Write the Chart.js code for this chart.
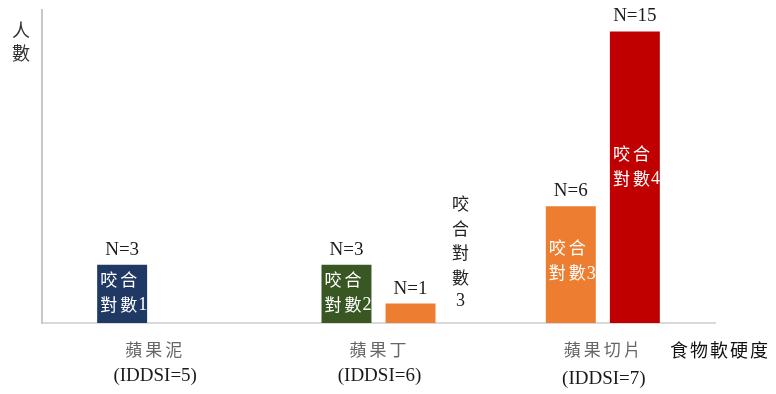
<!DOCTYPE html>
<html>
<head>
<meta charset="utf-8">
<script src="https://cdn.jsdelivr.net/npm/chart.js@4"></script>
<style>
  body { margin: 0; background: #fff; }
  #wrap { width: 776px; height: 394px; position: relative; }
</style>
</head>
<body>
<div id="wrap"><canvas id="myChart"></canvas></div>
<script>
// 食物軟硬度分類
const categories = ['蘋果泥', '蘋果丁', '蘋果切片'];
const subLabels = ['(IDDSI=5)', '(IDDSI=6)', '(IDDSI=7)'];

// 每個分類兩個位置（左、右）的人數與咬合對數
const leftCounts = [3, 3, 6];
const leftPairs = [1, 2, 3];
const rightCounts = [null, 1, 15];
const rightPairs = [null, 3, 4];

const pairColors = {
    1: '#203864',
    2: '#385723',
    3: '#ed7d31',
    4: '#c00000'
};

const serif = '"Liberation Serif", "Times New Roman", serif';
const cjk = '"Noto Sans CJK TC", "Noto Sans CJK SC", sans-serif';

// 在長條上畫 N=? 與咬合對數，並畫軸標題與分類標籤
const labelPlugin = {
    id: 'labelPlugin',
    afterDatasetsDraw(chart) {
        const ctx = chart.ctx;
        const area = chart.chartArea;
        const xScale = chart.scales.x;
        const pairsByDataset = [leftPairs, rightPairs];

        ctx.save();
        chart.data.datasets.forEach((ds, d) => {
            const meta = chart.getDatasetMeta(d);
            meta.data.forEach((bar, i) => {
                const value = ds.data[i];
                if (value === null) return;
                const pair = pairsByDataset[d][i];
                const top = bar.y;
                const base = bar.base;

                ctx.fillStyle = '#1a1a1a';
                ctx.font = '19px ' + serif;
                ctx.textAlign = 'center';
                ctx.textBaseline = 'middle';
                ctx.fillText('N=' + value, bar.x, top - 15);

                if (base - top > 40) {
                    // 長條越高，文字稍微往上移
                    const mid = (top + base) / 2 - (base - top) * 0.04;
                    const left = bar.x - bar.width / 2 + 3;
                    ctx.fillStyle = '#ffffff';
                    ctx.textAlign = 'left';
                    ctx.font = '17px ' + cjk;
                    ctx.letterSpacing = '3px';
                    ctx.fillText('咬合', left, mid - 12);
                    ctx.fillText('對數', left, mid + 13);
                    const w = ctx.measureText('對數').width;
                    ctx.letterSpacing = '0px';
                    ctx.font = '18px ' + serif;
                    ctx.fillText(String(pair), left + w - 2, mid + 14);
                } else {
                    // 矮長條的標籤改成直排放在右側
                    const chars = ['咬', '合', '對', '數', String(pair)];
                    ctx.fillStyle = '#222222';
                    ctx.textAlign = 'center';
                    chars.forEach((c, k) => {
                        const y = top - 2 - (chars.length - 1 - k) * 24.5;
                        ctx.font = (k === chars.length - 1 ? '18px ' + serif : '17px ' + cjk);
                        ctx.fillText(c, bar.x + 50, y);
                    });
                }
            });
        });

        // 分類標籤
        categories.forEach((name, i) => {
            const x = xScale.getPixelForValue(i);
            ctx.textAlign = 'center';
            ctx.textBaseline = 'middle';
            ctx.fillStyle = '#666666';
            ctx.font = '17px ' + cjk;
            ctx.letterSpacing = '3px';
            ctx.fillText(name, x + 1, area.bottom + 27);
            ctx.letterSpacing = '0px';
            ctx.fillStyle = '#1a1a1a';
            ctx.font = '19px ' + serif;
            ctx.fillText(subLabels[i], x + 1, area.bottom + 53 + (i === 2 ? 3 : 0));
        });

        // 軸標題
        ctx.fillStyle = '#333333';
        ctx.font = '18px ' + cjk;
        ctx.textAlign = 'center';
        ctx.fillText('人', area.left - 21, area.top + 20);
        ctx.fillText('數', area.left - 21, area.top + 43);

        ctx.fillStyle = '#111111';
        ctx.textAlign = 'left';
        ctx.font = '18px ' + cjk;
        ctx.letterSpacing = '2px';
        ctx.fillText('食物軟硬度', area.right - 45, area.bottom + 27);
        ctx.restore();
    }
};

const data = {
    labels: categories,
    datasets: [
        {
            label: '左',
            data: leftCounts,
            backgroundColor: leftPairs.map(p => pairColors[p] || 'transparent'),
            borderWidth: 0
        },
        {
            label: '右',
            data: rightCounts,
            backgroundColor: rightPairs.map(p => pairColors[p] || 'transparent'),
            borderWidth: 0
        }
    ]
};

const config = {
    type: 'bar',
    data: data,
    options: {
        responsive: true,
        maintainAspectRatio: false,
        animation: false,
        categoryPercentage: 0.571,
        barPercentage: 0.78,
        layout: {
            padding: { left: 42, right: 61, top: 10, bottom: 71 }
        },
        plugins: {
            legend: { display: false },
            tooltip: { enabled: false },
            title: { display: false }
        },
        scales: {
            x: {
                grid: { display: false, drawTicks: false },
                border: { display: true, color: '#d9d9d9', width: 2 },
                ticks: { display: false }
            },
            y: {
                min: 0,
                max: 16.1,
                grid: { display: false, drawTicks: false },
                border: { display: true, color: '#c8c8c8', width: 2 },
                ticks: { display: false }
            }
        }
    },
    plugins: [labelPlugin]
};

new Chart(document.getElementById('myChart'), config);
</script>
</body>
</html>
